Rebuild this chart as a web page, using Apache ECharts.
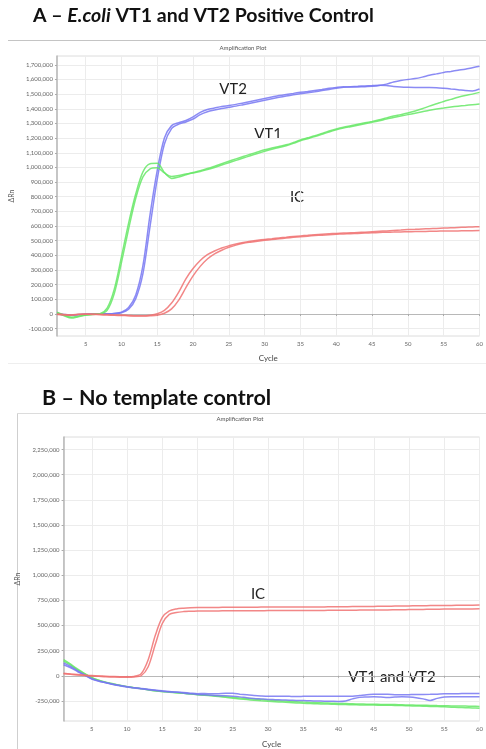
<!DOCTYPE html>
<html><head><meta charset="utf-8">
<script src="https://cdn.jsdelivr.net/npm/echarts@6/dist/echarts.min.js"></script>
<style>html,body{margin:0;padding:0;background:#fff}#c{width:486px;height:749px}</style>
</head><body><div id="c"></div>
<script>
// Values in thousands of ΔRn, cycles 1..60
const CYCLES = Array.from({length:60},(_,i)=>i+1);
const X_TICKS = [5,10,15,20,25,30,35,40,45,50,55,60];
const A_Y_TICKS = [-100000,0,100000,200000,300000,400000,500000,600000,700000,800000,900000,1000000,1100000,1200000,1300000,1400000,1500000,1600000,1700000];
const B_Y_TICKS = [-250000,0,250000,500000,750000,1000000,1250000,1500000,1750000,2000000,2250000];

const A_VT2_1 = [5,-3,-8,-4,0,2,1,2,4,12, 45,130,330,680,980,1200,1285,1305,1320,1345, 1375,1395,1405,1415,1422,1430,1440,1450,1460,1470, 1480,1490,1498,1505,1512,1518,1525,1532,1540,1546, 1550,1548,1549,1551,1553,1558,1568,1582,1593,1600, 1606,1616,1628,1638,1648,1655,1663,1670,1680,1690];
const A_VT2_2 = [0,-6,-10,-5,-2,0,0,1,3,8, 32,105,275,600,920,1160,1265,1295,1310,1330, 1360,1380,1392,1402,1410,1418,1428,1438,1448,1458, 1468,1478,1487,1495,1502,1509,1516,1524,1532,1540, 1546,1550,1553,1556,1558,1560,1558,1552,1548,1546, 1545,1545,1545,1544,1540,1535,1530,1524,1522,1535];
const A_VT1_1 = [12,-8,-22,-15,-6,-2,2,40,170,390, 620,820,970,1025,1028,965,925,935,950,965, 978,992,1008,1025,1042,1058,1074,1090,1105,1120, 1132,1143,1154,1170,1188,1202,1216,1232,1248,1262, 1274,1284,1294,1304,1314,1325,1338,1350,1360,1371, 1385,1400,1418,1434,1450,1464,1478,1490,1500,1512];
const A_VT1_2 = [8,-12,-28,-18,-8,-3,0,25,140,350, 580,790,935,990,998,962,938,945,955,962, 972,985,1000,1016,1032,1048,1064,1080,1095,1110, 1124,1136,1148,1164,1182,1196,1210,1226,1242,1256, 1268,1278,1288,1298,1308,1318,1330,1340,1350,1360, 1370,1380,1390,1398,1405,1412,1418,1423,1428,1432];
const A_IC_1 = [0,-4,-6,-2,0,0,-2,-4,-6,-8, -10,-12,-12,-8,2,25,75,150,240,310, 365,405,430,450,465,478,488,496,503,509, 514,519,524,529,533,537,541,544,547,550, 552,554,556,558,561,564,567,570,573,576, 578,580,582,584,586,588,590,592,594,595];
const A_IC_2 = [-3,-6,-8,-4,-2,-3,-5,-7,-9,-10, -12,-14,-14,-12,-8,5,35,95,180,260, 325,375,410,435,455,470,482,490,497,503, 508,513,518,523,527,531,535,538,541,544, 546,548,550,552,554,556,558,559,560,561, 562,563,564,565,566,567,567,568,568,569];

const B_IC_1 = [25,18,12,6,2,-2,-5,-8,-10,-10, -6,20,160,400,580,645,665,672,676,678, 679,680,680,681,681,682,682,682,683,683, 683,683,683,684,684,684,685,685,686,686, 687,688,688,689,690,691,692,693,694,695, 696,697,698,699,700,700,701,702,702,703];
const B_IC_2 = [20,14,8,3,-2,-6,-10,-12,-14,-14, -12,0,90,310,520,610,630,638,641,643, 644,645,645,646,646,646,647,647,647,648, 648,648,648,649,649,649,650,650,651,651, 652,652,653,653,654,655,655,656,657,658, 659,660,661,662,663,663,664,665,665,666];
const B_VT1_1 = [160,115,65,22,-18,-45,-65,-80,-95,-108, -118,-128,-138,-148,-156,-162,-168,-175,-181,-188, -194,-200,-207,-215,-224,-231,-237,-243,-249,-254, -258,-262,-266,-270,-274,-277,-279,-281,-283,-285, -287,-289,-290,-291,-292,-293,-294,-295,-297,-299, -301,-303,-305,-307,-309,-312,-315,-318,-320,-322];
const B_VT1_2 = [145,105,58,18,-20,-46,-66,-82,-96,-110, -120,-130,-140,-150,-157,-163,-169,-175,-180,-186, -191,-196,-202,-208,-215,-221,-227,-232,-237,-242, -246,-250,-254,-258,-262,-265,-268,-271,-273,-275, -277,-279,-281,-283,-284,-285,-286,-287,-289,-291, -293,-294,-295,-297,-298,-300,-301,-302,-304,-305];
const B_VT2_1 = [110,80,40,5,-33,-55,-70,-85,-98,-110, -118,-126,-134,-142,-150,-157,-162,-167,-173,-178, -176,-180,-178,-174,-175,-183,-190,-197,-202,-205, -205,-203,-205,-207,-205,-203,-204,-205,-205,-204, -205,-203,-196,-188,-185,-184,-185,-188,-190,-188, -186,-186,-185,-183,-180,-180,-178,-177,-176,-176];
const B_VT2_2 = [128,92,48,8,-30,-52,-70,-86,-100,-112, -122,-130,-138,-146,-155,-160,-165,-172,-180,-186, -190,-195,-198,-200,-204,-210,-218,-225,-230,-235, -238,-241,-243,-245,-247,-249,-251,-253,-254,-255, -250,-230,-215,-212,-210,-212,-215,-212,-210,-212, -218,-230,-245,-225,-212,-210,-210,-208,-208,-208];

const BLUE='#7777f2', GREEN='#66e866', RED='#f07272';
const FONT='Lato';

function pts(arr){ return arr.map((v,i)=>[CYCLES[i], v*1000]); }
function fmt(v){ return v===0 ? '0' : v.toLocaleString('en-US'); }
function line(name, arr, color, axis){
  return {name, type:'line', xAxisIndex:axis, yAxisIndex:axis, data:pts(arr), showSymbol:false, smooth:0.3,
    lineStyle:{color, width:1.5, opacity:0.85}, itemStyle:{color}, silent:true, animation:false};
}
function xAx(grid, gap){
  return {gridIndex:grid, type:'value', min:1, max:60,
    axisLine:{show:true, lineStyle:{color:'#b8b8b8', width:1}},
    axisTick:{show:true, customValues:X_TICKS, length:2, lineStyle:{color:'#aaa'}},
    axisLabel:{customValues:X_TICKS, fontSize:6, color:'#666', margin:5, fontFamily:FONT},
    splitLine:{show:true, lineStyle:{color:'#ececec', width:1}},
    name:'Cycle', nameLocation:'middle', nameGap:gap, nameTextStyle:{fontSize:8, color:'#444', fontFamily:FONT}};
}
function yAx(grid, min, max, ticks, gap){
  return {gridIndex:grid, type:'value', min, max,
    axisLine:{show:true, lineStyle:{color:'#b8b8b8', width:1.5}},
    axisTick:{show:true, customValues:ticks, length:2, lineStyle:{color:'#aaa'}},
    axisLabel:{customValues:ticks, fontSize:6, color:'#666', margin:4, fontFamily:FONT, formatter:fmt},
    splitLine:{show:true, lineStyle:{color:'#ececec', width:1}},
    name:'ΔRn', nameLocation:'middle', nameGap:gap, nameRotate:90, nameTextStyle:{fontSize:7, color:'#555', fontFamily:FONT}};
}

const chart = echarts.init(document.getElementById('c'), null, {renderer:'canvas'});
chart.setOption({
  animation:false,
  backgroundColor:'#fff',
  grid:[
    {left:54, top:56, width:429, height:280, show:true, borderColor:'#dcdcdc', borderWidth:1, backgroundColor:'#fff'},
    {left:63.6, top:437, width:433, height:288, show:true, borderColor:'#dcdcdc', borderWidth:1, backgroundColor:'#fff'}
  ],
  xAxis:[xAx(0,18), xAx(1,19)],
  yAxis:[yAx(0,-150000,1760000,A_Y_TICKS,31), yAx(1,-450000,2375000,B_Y_TICKS,37)],
  series:[
    line('VT2a',A_VT2_1,BLUE,0), line('VT2b',A_VT2_2,BLUE,0),
    line('VT1a',A_VT1_1,GREEN,0), line('VT1b',A_VT1_2,GREEN,0),
    line('ICa',A_IC_1,RED,0), line('ICb',A_IC_2,RED,0),
    line('B VT1a',B_VT1_1,GREEN,1), line('B VT1b',B_VT1_2,GREEN,1),
    line('B VT2a',B_VT2_1,BLUE,1), line('B VT2b',B_VT2_2,BLUE,1),
    line('B ICa',B_IC_1,RED,1), line('B ICb',B_IC_2,RED,1)
  ],
  graphic:[
    {type:'line', shape:{x1:8,y1:40.5,x2:486,y2:40.5}, style:{stroke:'#c4c4c4', lineWidth:1}, silent:true},
    {type:'line', shape:{x1:8,y1:363.5,x2:486,y2:363.5}, style:{stroke:'#eeeeee', lineWidth:1}, silent:true},
    {type:'line', shape:{x1:17.5,y1:413,x2:17.5,y2:749}, style:{stroke:'#cfcfcf', lineWidth:1}, silent:true},
    {type:'line', shape:{x1:17,y1:413.5,x2:486,y2:413.5}, style:{stroke:'#dcdcdc', lineWidth:1}, silent:true},
    {type:'text', left:33, top:6, style:{text:'{b|A – }{i|E.coli}{b| VT1 and VT2 Positive Control}',
      rich:{b:{fontFamily:FONT, fontWeight:'bold', fontSize:19.5, fill:'#111'}, i:{fontFamily:FONT, fontWeight:'bold', fontStyle:'italic', fontSize:19.5, fill:'#111'}}}},
    {type:'text', left:42, top:387, style:{text:'B – No template control', font:'bold 21.5px '+FONT, fill:'#111'}},
    {type:'text', x:243, y:48, style:{text:'Amplification Plot', font:'6px '+FONT, fill:'#555', align:'center', verticalAlign:'middle'}},
    {type:'text', x:240, y:419, style:{text:'Amplification Plot', font:'6px '+FONT, fill:'#555', align:'center', verticalAlign:'middle'}},
    {type:'text', x:233, y:89, style:{text:'VT2', font:'15px '+FONT, fill:'#222', align:'center', verticalAlign:'middle'}},
    {type:'text', x:268, y:134, style:{text:'VT1', font:'15px '+FONT, fill:'#222', align:'center', verticalAlign:'middle'}},
    {type:'text', x:297, y:197, style:{text:'IC', font:'15px '+FONT, fill:'#222', align:'center', verticalAlign:'middle'}},
    {type:'text', x:258, y:594, style:{text:'IC', font:'15px '+FONT, fill:'#222', align:'center', verticalAlign:'middle'}},
    {type:'text', x:392, y:677, style:{text:'VT1 and VT2', font:'15px '+FONT, fill:'#222', align:'center', verticalAlign:'middle'}}
  ]
});
</script></body></html>
